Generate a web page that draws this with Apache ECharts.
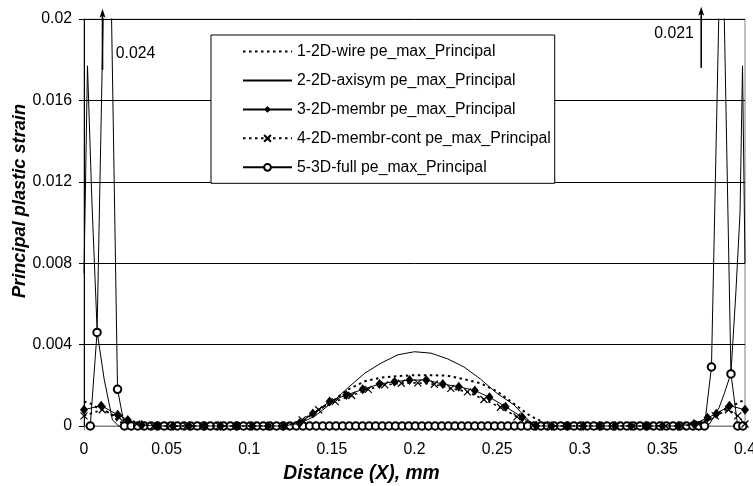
<!DOCTYPE html>
<html><head><meta charset="utf-8">
<script src="https://cdn.jsdelivr.net/npm/echarts@6/dist/echarts.min.js"></script>
<style>html,body{margin:0;padding:0;background:#fff}#c{width:753px;height:486px}</style>
</head><body><div id="c"></div>
<script>
const seriesNames = ["1-2D-wire pe_max_Principal","2-2D-axisym pe_max_Principal","3-2D-membr pe_max_Principal","4-2D-membr-cont pe_max_Principal","5-3D-full pe_max_Principal"];
const xTickLabels = ["0","0.05","0.1","0.15","0.2","0.25","0.3","0.35","0.4"];
const yTickLabels = ["0","0.004","0.008","0.012","0.016","0.02"];
const xTitle = "Distance (X), mm";
const yTitle = "Principal plastic strain";
const peakNotes = [{text:"0.024", x:0.0112, y0:0.0175, y1:0.0205}, {text:"0.021", x:0.3735, y0:0.0176, y1:0.0206}];

const wire = [[0,0.0012],[0.004,0.0011],[0.008,0.0009],[0.012,0.0008],[0.016,0.0006],[0.02,0.0003],[0.024,0.0001],[0.028,0],[0.12,0],[0.13,0.0001],[0.14,0.0007],[0.15,0.0012],[0.16,0.0018],[0.17,0.0022],[0.18,0.00238],[0.19,0.00245],[0.2,0.0025],[0.21,0.0025],[0.22,0.00247],[0.23,0.0023],[0.24,0.0021],[0.25,0.0017],[0.26,0.0011],[0.27,0.0005],[0.28,0.0001],[0.285,0],[0.37,0],[0.375,0.0001],[0.38,0.0004],[0.385,0.0007],[0.39,0.0009],[0.395,0.0011],[0.4,0.0013]];

const axisym = [[0,0.0075],[0.0021,0.0177],[0.0048,0.011],[0.008,0.0046],[0.0122,0.0023],[0.0172,0.0003],[0.021,0],[0.125,0],[0.13,0.0001],[0.14,0.0005],[0.15,0.00115],[0.16,0.0019],[0.17,0.0026],[0.18,0.0031],[0.19,0.0035],[0.2,0.00365],[0.21,0.00358],[0.22,0.0033],[0.23,0.0029],[0.24,0.0023],[0.25,0.0016],[0.26,0.00105],[0.27,0.0002],[0.275,0],[0.375,0],[0.3785,0.0001],[0.3815,0.0005],[0.3843,0.0009],[0.3875,0.0016],[0.3915,0.0026],[0.3945,0.0066],[0.397,0.0105],[0.3985,0.0177],[0.4,0.008]];

const membr = [[0,0.0008],[0.0104,0.001],[0.0204,0.00055],[0.0265,0.0003],[0.035,0.00005],[0.0445,0],[0.054,0],[0.0636,0],[0.0731,0],[0.0827,0],[0.0922,0],[0.1018,0],[0.1113,0],[0.1209,0],[0.1304,0.00013],[0.1385,0.00062],[0.1486,0.0012],[0.1587,0.00152],[0.1687,0.0018],[0.1788,0.00206],[0.1879,0.00218],[0.197,0.00226],[0.2071,0.00226],[0.2171,0.00206],[0.2268,0.00193],[0.2365,0.00174],[0.2454,0.00141],[0.2551,0.00095],[0.2652,0.00043],[0.2736,0],[0.2831,0],[0.2927,0],[0.3022,0],[0.3118,0],[0.3213,0],[0.3309,0],[0.3404,0],[0.35,0],[0.3595,0],[0.3691,0.0001],[0.3773,0.0004],[0.3826,0.0006],[0.3906,0.001],[0.4,0.0008]];

const membrCont = [[0,0.0005],[0.011,0.0008],[0.0215,0.0004],[0.032,0.0001],[0.042,0],[0.052,0],[0.062,0],[0.072,0],[0.082,0],[0.092,0],[0.102,0],[0.112,0],[0.122,0],[0.132,0.0003],[0.142,0.0008],[0.152,0.0012],[0.162,0.0015],[0.172,0.0018],[0.182,0.00202],[0.192,0.0021],[0.202,0.00212],[0.212,0.00205],[0.222,0.00185],[0.232,0.00168],[0.242,0.0013],[0.252,0.00092],[0.262,0.00045],[0.272,0.00005],[0.282,0],[0.292,0],[0.302,0],[0.312,0],[0.322,0],[0.332,0],[0.342,0],[0.352,0],[0.362,0],[0.372,0.0001],[0.382,0.0005],[0.39,0.0008],[0.3956,0.0005],[0.4,0.0001]];

const full3D = [[0.0038,0],[0.0079,0.0046],[0.0125,0.024],[0.016,0.0235],[0.0203,0.0018],[0.0245,0],[0.0285,0],[0.0325,0],[0.0365,0],[0.0405,0],[0.0445,0],[0.0485,0],[0.0525,0],[0.0565,0],[0.0605,0],[0.0645,0],[0.0685,0],[0.0725,0],[0.0765,0],[0.0805,0],[0.0845,0],[0.0885,0],[0.0925,0],[0.0965,0],[0.1005,0],[0.1045,0],[0.1085,0],[0.1125,0],[0.1165,0],[0.1205,0],[0.1245,0],[0.1285,0],[0.1325,0],[0.1365,0],[0.1405,0],[0.1445,0],[0.1485,0],[0.1525,0],[0.1565,0],[0.1605,0],[0.1645,0],[0.1685,0],[0.1725,0],[0.1765,0],[0.1805,0],[0.1845,0],[0.1885,0],[0.1925,0],[0.1965,0],[0.2005,0],[0.2045,0],[0.2085,0],[0.2125,0],[0.2165,0],[0.2205,0],[0.2245,0],[0.2285,0],[0.2325,0],[0.2365,0],[0.2405,0],[0.2445,0],[0.2485,0],[0.2525,0],[0.2565,0],[0.2605,0],[0.2645,0],[0.2685,0],[0.2725,0],[0.2765,0],[0.2805,0],[0.2845,0],[0.2885,0],[0.2925,0],[0.2965,0],[0.3005,0],[0.3045,0],[0.3085,0],[0.3125,0],[0.3165,0],[0.3205,0],[0.3245,0],[0.3285,0],[0.3325,0],[0.3365,0],[0.3405,0],[0.3445,0],[0.3485,0],[0.3525,0],[0.3565,0],[0.3605,0],[0.3645,0],[0.3685,0],[0.372,0],[0.3755,0],[0.3797,0.0029],[0.3845,0.0215],[0.3872,0.0212],[0.3915,0.00256],[0.3956,0],[0.3987,0]];

const FONT = 'Arial, "Liberation Sans", sans-serif';
const FS = 15.8;
const chart = echarts.init(document.getElementById('c'), null, {renderer:'canvas'});
const crossPath = 'path://M0,0L10,10M10,0L0,10';
const baseLine = {type:'line', animation:false, clip:false};
chart.setOption({
  animation:false,
  backgroundColor:'#fff',
  textStyle:{fontFamily:FONT, color:'#000'},
  grid:{left:84, right:8, top:19, bottom:60, outerBoundsMode:'none', containLabel:false, show:true, borderColor:'#808080', borderWidth:1, backgroundColor:'transparent'},
  xAxis:{type:'value', min:0, max:0.4, interval:0.05,
    axisLine:{show:true, lineStyle:{color:'#808080', width:1}},
    axisTick:{show:true, inside:false, length:4, lineStyle:{color:'#808080'}},
    splitLine:{show:false},
    axisLabel:{margin:16, fontSize:FS, color:'#000', fontFamily:FONT, hideOverlap:false,
      formatter:(v)=>xTickLabels[Math.round(v/0.05)]}},
  yAxis:{type:'value', min:0, max:0.02, interval:0.004,
    axisLine:{show:true, lineStyle:{color:'#000', width:1}},
    axisTick:{show:true, inside:false, length:5, lineStyle:{color:'#000'}},
    splitLine:{show:true, lineStyle:{color:'#000', width:1}},
    axisLabel:{margin:12, fontSize:FS, color:'#000', fontFamily:FONT,
      formatter:(v)=>yTickLabels[Math.round(v/0.004)]}},
  legend:{orient:'vertical', left:211, top:35, align:'left',
    backgroundColor:'#fff', borderColor:'#000', borderWidth:1,
    padding:[8.5,4,8,31], itemWidth:49, itemHeight:8.5, itemGap:12.95,
    textStyle:{fontSize:FS, color:'#000', fontFamily:FONT},
    data:seriesNames, z:10},
  series:[
    Object.assign({}, baseLine, {name:seriesNames[0], z:3, data:wire, symbol:'circle', showSymbol:false,
      lineStyle:{color:'#000', width:2, type:[2.5,3.5]}, itemStyle:{color:'rgba(0,0,0,0)'}}),
    Object.assign({}, baseLine, {name:seriesNames[1], z:3, data:axisym, symbol:'circle', showSymbol:false,
      lineStyle:{color:'#000', width:1}, itemStyle:{color:'rgba(0,0,0,0)'}}),
    Object.assign({}, baseLine, {name:seriesNames[2], z:5, data:membr, symbol:'diamond', symbolSize:[8,10],
      lineStyle:{color:'#000', width:1}, itemStyle:{color:'#000', borderColor:'#000', borderWidth:0}}),
    Object.assign({}, baseLine, {name:seriesNames[3], z:5, data:membrCont, symbol:crossPath, symbolSize:7,
      lineStyle:{color:'#000', width:1.6, type:[2.5,3.5]}, itemStyle:{color:'none', borderColor:'#000', borderWidth:1.2}}),
    Object.assign({}, baseLine, {name:seriesNames[4], z:4, data:full3D, symbol:'emptyCircle', symbolSize:7.5,
      lineStyle:{color:'#000', width:1}, itemStyle:{color:'#000', borderColor:'#000', borderWidth:1}})
  ]
});

const g = [];
// white band above the plot area: hides the parts of the lines that run above the axis maximum
const tl = chart.convertToPixel({gridIndex:0},[0,0.02]);
const tr = chart.convertToPixel({gridIndex:0},[0.4,0.02]);
g.push({type:'rect', z:8, silent:true, shape:{x:tl[0]+0.6, y:0, width:tr[0]-tl[0]-1.2, height:tl[1]-0.5}, style:{fill:'#fff'}});
g.push({type:'text', x:361.5, y:474, z:20, style:{text:xTitle, font:'italic bold 19.3px '+FONT, fill:'#000', textAlign:'center', textVerticalAlign:'middle'}});
g.push({type:'text', x:20, y:201, rotation:Math.PI/2, z:20, style:{text:yTitle, font:'italic bold 18.2px '+FONT, fill:'#000', textAlign:'center', textVerticalAlign:'middle'}});
const labelPos = [[135.5,54],[674,34]];
peakNotes.forEach((n,i)=>{
  const a = chart.convertToPixel({gridIndex:0},[n.x,n.y0]);
  const b = chart.convertToPixel({gridIndex:0},[n.x,n.y1]);
  g.push({type:'line', z:20, shape:{x1:a[0],y1:a[1],x2:b[0],y2:b[1]+6}, style:{stroke:'#000', lineWidth:1.6}});
  g.push({type:'polygon', z:20, shape:{points:[[b[0],b[1]],[b[0]-3,b[1]+9],[b[0],b[1]+7],[b[0]+3,b[1]+9]]}, style:{fill:'#000'}});
  g.push({type:'text', x:labelPos[i][0], y:labelPos[i][1], z:20, style:{text:n.text, font:FS+'px '+FONT, fill:'#000', textAlign:'center', textVerticalAlign:'middle'}});
});
chart.setOption({graphic:g});
</script></body></html>
